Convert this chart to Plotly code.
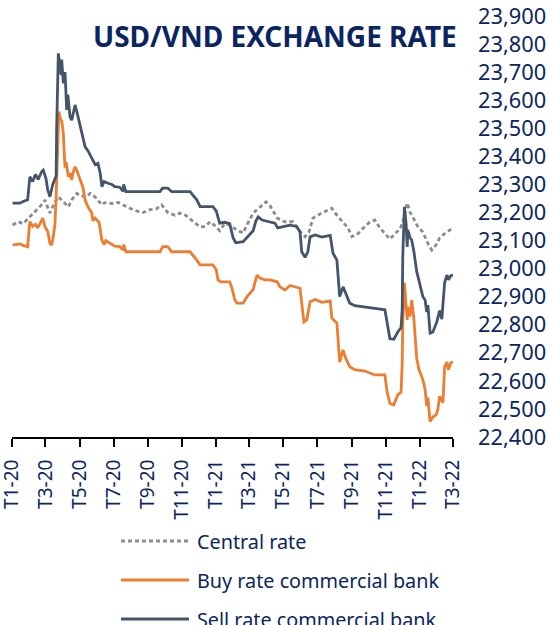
import plotly.graph_objects as go

# ---------------- data ----------------
sell_dates = ["2020-01-02","2020-01-15","2020-01-22","2020-01-29","2020-02-02","2020-02-07","2020-02-12","2020-02-17","2020-02-23","2020-02-26",
 "2020-03-02","2020-03-05","2020-03-09","2020-03-14","2020-03-20","2020-03-21","2020-03-24","2020-03-26","2020-03-27","2020-03-29",
 "2020-03-30","2020-04-02","2020-04-05","2020-04-08","2020-04-10","2020-04-14","2020-04-17","2020-04-19","2020-04-23","2020-04-26",
 "2020-05-02","2020-05-07","2020-05-11","2020-05-16","2020-05-23","2020-05-29","2020-06-03","2020-06-07","2020-06-10","2020-06-14",
 "2020-06-21","2020-06-28","2020-07-03","2020-07-12","2020-07-18","2020-07-19","2020-07-23","2020-09-22","2020-09-27","2020-10-06",
 "2020-10-13","2020-11-15","2020-11-20","2020-11-27","2020-12-03","2020-12-26","2021-01-01","2021-01-04","2021-01-07","2021-01-16",
 "2021-01-25","2021-01-31","2021-02-05","2021-02-18","2021-02-25","2021-03-08","2021-03-13","2021-03-17","2021-03-24","2021-04-16",
 "2021-04-21","2021-04-30","2021-05-13","2021-05-25","2021-05-31","2021-06-03","2021-06-09","2021-06-14","2021-06-18","2021-06-27",
 "2021-07-09","2021-07-24","2021-07-29","2021-08-05","2021-08-10","2021-08-16","2021-08-21","2021-08-28","2021-09-06","2021-09-24",
 "2021-10-12","2021-10-30","2021-11-03","2021-11-08","2021-11-15","2021-11-22","2021-11-28","2021-11-30","2021-12-01","2021-12-04",
 "2021-12-07","2021-12-09","2021-12-10","2021-12-14","2021-12-17","2021-12-21","2021-12-26","2022-01-01","2022-01-06","2022-01-10",
 "2022-01-13","2022-01-15","2022-01-19","2022-01-24","2022-01-31","2022-02-05","2022-02-09","2022-02-14","2022-02-18","2022-02-21",
 "2022-02-25","2022-03-01"]
sell_vals = [23233,23233,23240,23245,23327,23310,23335,23318,23345,23351,
 23320,23280,23256,23300,23330,23500,23767,23740,23719,23690,
 23745,23660,23700,23565,23620,23540,23529,23550,23583,23560,
 23506,23470,23434,23420,23393,23370,23375,23340,23292,23310,
 23304,23300,23292,23290,23275,23300,23274,23274,23287,23287,
 23274,23274,23262,23245,23221,23221,23205,23180,23162,23165,
 23160,23110,23092,23096,23112,23135,23170,23184,23173,23162,
 23145,23150,23155,23150,23130,23060,23040,23060,23113,23120,
 23112,23118,23055,23030,22900,22935,22910,22877,22868,22862,
 22858,22853,22800,22750,22748,22774,22790,22853,23041,23220,
 23160,23077,23138,23110,23102,23060,22990,22940,22900,22888,
 22845,22870,22770,22774,22810,22850,22820,22950,22977,22960,
 22975,22977]

buy_dates = ["2020-01-02","2020-01-15","2020-01-22","2020-01-29","2020-02-02","2020-02-07","2020-02-12","2020-02-16","2020-02-22","2020-02-25",
 "2020-02-29","2020-03-05","2020-03-09","2020-03-12","2020-03-15","2020-03-18","2020-03-20","2020-03-24","2020-03-25","2020-03-27",
 "2020-03-29","2020-03-30","2020-04-02","2020-04-03","2020-04-05","2020-04-07","2020-04-11","2020-04-14","2020-04-17","2020-04-19",
 "2020-04-23","2020-04-26","2020-05-02","2020-05-07","2020-05-11","2020-05-16","2020-05-23","2020-05-25","2020-05-29","2020-06-01",
 "2020-06-05","2020-06-10","2020-06-14","2020-06-17","2020-06-24","2020-07-03","2020-07-12","2020-07-18","2020-07-19","2020-07-23",
 "2020-09-22","2020-09-27","2020-10-06","2020-10-13","2020-11-15","2020-11-20","2020-11-27","2020-12-03","2020-12-26","2021-01-01",
 "2021-01-04","2021-01-09","2021-01-25","2021-01-29","2021-02-03","2021-02-07","2021-02-18","2021-02-25","2021-03-02","2021-03-08",
 "2021-03-11","2021-03-15","2021-03-20","2021-03-29","2021-04-07","2021-04-20","2021-04-25","2021-05-04","2021-05-13","2021-05-22",
 "2021-05-31","2021-06-03","2021-06-07","2021-06-12","2021-06-16","2021-06-18","2021-06-27","2021-07-09","2021-07-24","2021-07-27",
 "2021-08-05","2021-08-08","2021-08-10","2021-08-16","2021-08-21","2021-08-28","2021-09-06","2021-09-24","2021-10-12","2021-10-30",
 "2021-11-03","2021-11-08","2021-11-15","2021-11-22","2021-11-28","2021-11-30","2021-12-01","2021-12-04","2021-12-07","2021-12-09",
 "2021-12-10","2021-12-14","2021-12-17","2021-12-21","2021-12-26","2021-12-30","2022-01-03","2022-01-06","2022-01-10","2022-01-13",
 "2022-01-15","2022-01-19","2022-01-24","2022-01-30","2022-02-02","2022-02-05","2022-02-09","2022-02-11","2022-02-14","2022-02-18",
 "2022-02-21","2022-02-25","2022-03-01"]
buy_vals = [23084,23088,23082,23078,23167,23150,23158,23145,23167,23180,
 23150,23132,23090,23084,23114,23160,23256,23458,23560,23540,
 23525,23530,23480,23434,23360,23380,23327,23340,23316,23340,
 23363,23350,23316,23290,23244,23220,23198,23170,23180,23173,
 23165,23102,23085,23100,23090,23080,23078,23066,23085,23060,
 23060,23078,23078,23060,23060,23049,23030,23013,23013,22995,
 22960,22953,22953,22930,22890,22877,22877,22900,22912,22925,
 22949,22977,22966,22960,22960,22953,22935,22924,22940,22935,
 22930,22877,22810,22817,22860,22882,22890,22880,22885,22824,
 22806,22700,22667,22710,22680,22650,22640,22635,22621,22621,
 22560,22520,22515,22550,22560,22664,22806,22949,22860,22817,
 22863,22830,22888,22820,22680,22640,22620,22603,22570,22510,
 22540,22455,22471,22480,22500,22545,22530,22522,22650,22667,
 22640,22665,22667]

central_dates = ["2020-01-02","2020-01-12","2020-01-21","2020-01-29","2020-02-05","2020-02-14","2020-02-22","2020-02-29","2020-03-05","2020-03-09",
 "2020-03-16","2020-03-24","2020-04-01","2020-04-11","2020-04-17","2020-04-26","2020-05-04","2020-05-14","2020-05-20","2020-05-29",
 "2020-06-10","2020-06-15","2020-06-28","2020-07-09","2020-07-18","2020-07-30","2020-08-12","2020-08-23","2020-09-04","2020-09-15",
 "2020-09-25","2020-10-06","2020-10-19","2020-10-28","2020-11-07","2020-11-18","2020-12-03","2020-12-12","2020-12-21","2020-12-30",
 "2021-01-07","2021-01-16","2021-01-25","2021-02-05","2021-02-18","2021-02-26","2021-03-08","2021-03-18","2021-03-31","2021-04-07",
 "2021-04-20","2021-05-04","2021-05-18","2021-05-31","2021-06-09","2021-06-16","2021-06-23","2021-07-06","2021-07-16","2021-07-27",
 "2021-08-05","2021-08-14","2021-08-25","2021-09-01","2021-09-12","2021-09-24","2021-10-03","2021-10-12","2021-10-21","2021-10-30",
 "2021-11-08","2021-11-17","2021-11-26","2021-12-03","2021-12-09","2021-12-14","2021-12-19","2021-12-28","2022-01-06","2022-01-15",
 "2022-01-22","2022-01-30","2022-02-05","2022-02-14","2022-02-24","2022-03-01"]
central_vals = [23155,23167,23160,23175,23191,23209,23225,23244,23215,23198,
 23230,23256,23240,23220,23245,23268,23258,23256,23268,23255,
 23227,23235,23232,23236,23227,23215,23205,23200,23210,23212,
 23227,23200,23190,23198,23190,23173,23148,23150,23167,23152,
 23135,23160,23155,23140,23127,23160,23198,23215,23238,23225,
 23180,23167,23167,23132,23114,23130,23180,23195,23205,23215,
 23190,23170,23145,23114,23125,23150,23166,23173,23145,23125,
 23105,23125,23140,23180,23234,23200,23184,23149,23130,23090,
 23066,23085,23109,23125,23138,23145]

tick_dates = ["2020-01-01","2020-03-01","2020-05-01","2020-07-01","2020-09-01","2020-11-01",
              "2021-01-01","2021-03-01","2021-05-01","2021-07-01","2021-09-01","2021-11-01",
              "2022-01-01","2022-03-01"]
tick_labels = ["T1-20","T3-20","T5-20","T7-20","T9-20","T11-20",
               "T1-21","T3-21","T5-21","T7-21","T9-21","T11-21",
               "T1-22","T3-22"]
series_names = ["Central rate", "Buy rate commercial bank", "Sell rate commercial bank"]
title_text = "USD/VND EXCHANGE RATE"

# ---------------- styling ----------------
NAVY = "#0B2561"
FONT = "Noto Sans"
C_CENTRAL = "#8C8C8C"
C_BUY = "#ED7D31"
C_SELL = "#44546A"

W, H = 549, 625
ML, MR, MT, MB = 12, 96, 16, 188
PW, PH = W - ML - MR, H - MT - MB

fig = go.Figure()
fig.add_trace(go.Scatter(x=central_dates, y=central_vals, mode="lines", name=series_names[0],
                         line=dict(color=C_CENTRAL, width=2.8, dash="4px,3px")))
fig.add_trace(go.Scatter(x=buy_dates, y=buy_vals, mode="lines", name=series_names[1],
                         line=dict(color=C_BUY, width=2.8)))
fig.add_trace(go.Scatter(x=sell_dates, y=sell_vals, mode="lines", name=series_names[2],
                         line=dict(color=C_SELL, width=2.8)))

def px_x(p):
    return (p - ML) / PW

def px_y(p):
    return (H - MB - p) / PH

# manual legend
legend_rows = [(541, C_CENTRAL, "4px,3px"), (580, C_BUY, "solid"), (619, C_SELL, "solid")]
shapes = []
annotations = []
for (py, col, dash), name in zip(legend_rows, series_names):
    shapes.append(dict(type="line", xref="paper", yref="paper",
                       x0=px_x(121), x1=px_x(189), y0=px_y(py), y1=px_y(py),
                       line=dict(color=col, width=2.8, dash=dash)))
    annotations.append(dict(xref="paper", yref="paper", x=px_x(195), y=px_y(py),
                            xanchor="left", yanchor="middle", showarrow=False,
                            text=name, font=dict(family=FONT, size=19.8, color=NAVY)))

annotations.append(dict(xref="paper", yref="paper", x=px_x(275), y=px_y(36),
                        xanchor="center", yanchor="middle", showarrow=False,
                        text="<b>" + title_text + "</b>",
                        font=dict(family=FONT, size=28, color=NAVY)))

fig.update_layout(
    template="none",
    width=W, height=H,
    margin=dict(l=ML, r=MR, t=MT, b=MB, autoexpand=False),
    paper_bgcolor="white", plot_bgcolor="white",
    showlegend=False,
    shapes=shapes, annotations=annotations,
    xaxis=dict(type="date", range=["2020-01-01", "2022-03-01"],
               tickmode="array", tickvals=tick_dates, ticktext=tick_labels,
               tickangle=-90, ticks="outside", ticklen=8, tickwidth=2, tickcolor="black",
               showline=True, linecolor="black", linewidth=2, showgrid=False, zeroline=False,
               ticklabelstandoff=5, ticklabeloverflow="allow",
               tickfont=dict(family=FONT, size=19, color=NAVY), automargin=False),
    yaxis=dict(side="right", range=[22400, 23900], dtick=100, tick0=22400,
               tickformat=",d", ticks="", showline=False, showgrid=False, zeroline=False,
               ticklabelstandoff=24, ticklabeloverflow="allow",
               tickfont=dict(family=FONT, size=21.8, color=NAVY), automargin=False),
)

fig.write_html("out.html", config={"displayModeBar": False},
               post_script="document.body.style.margin='0';document.body.style.overflow='hidden';")
